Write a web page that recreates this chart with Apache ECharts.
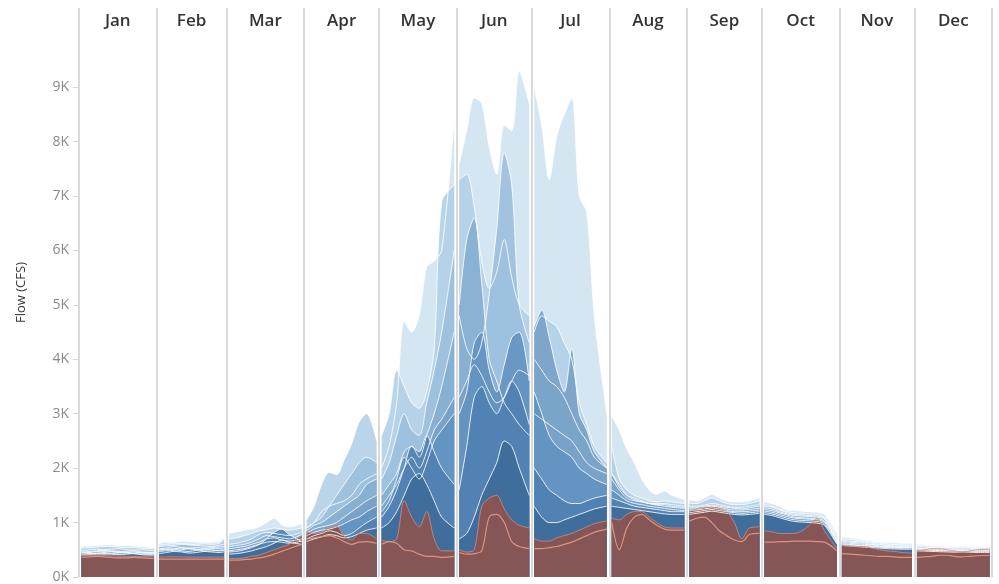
<!DOCTYPE html>
<html>
<head>
<meta charset="utf-8">
<script src="https://cdn.jsdelivr.net/npm/echarts@6/dist/echarts.min.js"></script>
<style>
  html, body { margin: 0; padding: 0; background: #fff; }
  #chart { width: 999px; height: 584px; }
</style>
</head>
<body>
<div id="chart"></div>
<script>
// months and axis ticks
const months = ['Jan', 'Feb', 'Mar', 'Apr', 'May', 'Jun', 'Jul', 'Aug', 'Sep', 'Oct', 'Nov', 'Dec'];
const monthDays = [31, 28, 31, 30, 31, 30, 31, 31, 30, 31, 30, 31];
const yTicks = [0, 1000, 2000, 3000, 4000, 5000, 6000, 7000, 8000, 9000];

// daily flow (CFS), 10 samples per month, one array per year (wettest first)
const flowB1 = [
  560,570,580,590,590,580,580,570,560,540,
  620,640,640,660,650,640,640,640,650,720,
  800,830,860,880,920,1000,1080,960,920,980,
  900,1000,1200,1300,1350,1400,1500,1700,1800,1900,
  2000,2400,3200,4700,4500,4800,5700,5800,6000,8400,
  7600,8200,8800,8700,7900,7400,8300,8200,9300,8700,
  9000,8300,7300,8100,8500,8800,7000,6700,4800,3000,
  2950,2700,2350,2100,1800,1600,1520,1580,1500,1420,
  1420,1400,1450,1520,1450,1400,1380,1380,1400,1450,
  1380,1350,1300,1230,1220,1210,1200,1190,1150,800,
  740,720,700,680,660,640,640,630,620,620,
  600,590,580,570,560,560,570,560,560,560
];
const flowB2 = [
  530,540,550,560,560,550,540,540,530,520,
  580,600,610,620,600,600,610,600,620,700,
  700,720,760,800,850,870,900,880,860,900,
  1050,1300,1700,1920,1880,2150,2450,2850,3000,2500,
  2600,3000,3800,3500,3200,3100,3400,4200,6900,7200,
  7300,7400,6800,5800,5300,5600,6200,5500,5000,4800,
  4500,4800,4700,4600,4300,4000,3200,2800,2400,2100,
  2400,1800,1600,1500,1450,1400,1380,1400,1380,1350,
  1350,1350,1400,1450,1400,1350,1330,1330,1350,1400,
  1330,1300,1250,1200,1180,1170,1160,1150,1100,750,
  700,690,670,650,640,620,610,600,600,600,
  580,570,560,550,545,545,550,545,540,540
];
const flowB3 = [
  480,500,510,500,510,520,500,490,500,480,
  560,570,580,600,590,580,570,560,580,600,
  600,620,650,700,780,820,800,780,760,820,
  900,1000,1100,1300,1500,1700,1900,2100,2200,2100,
  1800,2100,2600,3000,2700,2600,3200,3800,4500,6000,
  4800,4200,4000,4300,5200,6400,7800,7200,5000,4300,
  4000,3800,3600,3500,3300,3000,2700,2500,2200,2000,
  1900,1700,1500,1450,1400,1350,1350,1350,1330,1300,
  1300,1300,1320,1350,1330,1300,1280,1280,1300,1330,
  1300,1280,1230,1180,1150,1140,1130,1120,1080,700,
  680,660,650,640,620,600,590,590,580,580,
  560,550,540,540,530,530,535,530,520,520
];
const flowB4 = [
  460,470,480,490,470,460,470,480,460,450,
  520,530,560,540,530,540,530,540,550,560,
  560,580,600,640,700,760,740,720,700,780,
  850,950,1000,1100,1200,1300,1400,1500,1700,1800,
  1500,1700,1900,2300,2400,2200,2600,3000,3500,4500,
  5000,6200,6600,5400,4000,3600,3200,3000,2800,2600,
  3000,2900,2800,2700,2600,2500,2300,2100,2000,1900,
  1800,1600,1450,1400,1380,1350,1330,1330,1300,1280,
  1280,1280,1300,1320,1300,1280,1260,1250,1270,1300,
  1270,1250,1200,1160,1130,1120,1110,1100,1060,680,
  660,640,630,620,600,590,580,570,560,560,
  540,530,530,520,510,510,515,510,505,505
];
const flowB5 = [
  440,450,470,470,480,470,450,440,450,440,
  500,510,520,530,520,510,500,520,520,540,
  520,540,560,600,640,700,720,680,660,700,
  800,880,920,950,1000,1100,1200,1300,1400,1500,
  1300,1500,1700,2000,2200,2000,2300,2700,2900,3300,
  3300,3600,3900,3700,3400,3200,3300,3600,3800,3700,
  4600,4900,4400,3800,3400,4200,3000,2700,2300,2000,
  1900,1650,1500,1420,1380,1350,1320,1300,1280,1260,
  1250,1250,1280,1300,1280,1250,1230,1230,1240,1260,
  1240,1220,1180,1140,1100,1090,1080,1070,1030,660,
  640,620,610,600,590,570,560,560,550,550,
  530,520,510,505,500,495,500,495,490,490
];
const flowB6 = [
  420,430,440,450,460,450,440,430,420,420,
  470,480,490,500,520,500,480,480,490,500,
  480,500,520,560,600,640,650,640,620,660,
  760,820,860,880,920,980,1050,1100,1200,1300,
  1200,1400,1800,2200,2000,1800,2100,2500,2700,3000,
  3000,3400,4300,4500,3800,3400,3900,4400,4500,3600,
  3400,3000,2600,2400,2300,2200,2000,1900,1800,1700,
  1600,1500,1400,1350,1330,1300,1280,1260,1240,1220,
  1220,1230,1250,1270,1250,1220,1200,1200,1210,1230,
  1210,1190,1150,1110,1080,1070,1060,1050,1010,640,
  620,600,590,580,570,560,550,545,540,540,
  515,505,500,495,490,485,490,485,480,480
];
const flowB7 = [
  450,440,430,420,430,440,450,460,440,430,
  490,500,510,480,470,490,520,500,480,490,
  460,470,500,540,600,700,820,880,780,650,
  700,760,800,850,820,760,800,900,1000,1100,
  1100,1300,1600,2000,2400,2300,2600,2300,2000,1700,
  1600,2400,3300,3500,3200,3000,3300,3600,3400,2800,
  2000,1800,1600,1500,1400,1350,1350,1400,1450,1500,
  1450,1400,1350,1300,1280,1260,1240,1220,1200,1200,
  1180,1200,1220,1240,1220,1200,1180,1170,1180,1200,
  1180,1160,1120,1080,1050,1040,1030,1020,980,620,
  600,590,580,570,560,550,540,535,530,530,
  500,495,490,485,480,475,480,475,470,470
];
const flowB8 = [
  400,410,420,430,420,410,420,430,410,400,
  430,450,470,460,440,450,470,460,450,460,
  420,430,450,480,520,560,620,680,640,600,
  650,700,740,780,760,720,740,800,860,900,
  900,1000,1200,1500,1800,1900,1700,1400,1100,900,
  700,800,1100,1500,1800,2100,2500,2400,2000,1500,
  1300,1100,1000,1000,1050,1100,1150,1200,1250,1300,
  1300,1280,1260,1240,1220,1200,1180,1160,1150,1150,
  1150,1170,1190,1210,1190,1170,1150,1140,1150,1170,
  1150,1130,1090,1050,1020,1010,1000,990,950,600,
  580,570,560,550,540,530,520,515,510,510,
  480,475,470,465,460,455,460,455,450,450
];
// dry years
const flowR1 = [
  400,400,400,395,390,385,380,380,375,370,
  370,370,370,370,365,365,365,365,365,365,
  340,340,350,380,400,450,500,550,600,760,
  830,800,820,900,930,750,680,800,800,700,
  670,650,700,1400,1100,920,1200,700,480,480,
  500,460,500,1300,1450,1500,1250,1050,950,900,
  700,660,660,720,760,800,860,920,980,1030,
  1080,1050,1150,1200,1200,1100,1000,920,900,900,
  1200,1250,1280,1280,1260,1200,1000,700,900,920,
  850,830,800,800,800,850,950,1080,850,520,
  580,570,560,560,530,500,480,470,450,440,
  480,500,520,520,500,480,460,480,500,510
];
const flowR2 = [
  360,370,380,370,360,350,350,360,350,340,
  330,330,330,330,330,330,330,330,330,330,
  310,310,320,330,350,380,420,470,520,600,
  700,720,740,760,720,650,600,640,650,620,
  600,650,620,500,480,420,380,380,360,380,
  450,420,430,480,1100,1150,1000,650,560,520,
  520,520,540,560,600,640,700,760,820,880,
  1000,500,900,1100,1150,1050,950,880,860,860,
  1030,1080,1100,1000,850,760,680,650,780,800,
  640,640,650,650,660,660,660,650,640,480,
  430,420,410,400,390,380,380,370,360,360,
  360,370,380,400,400,380,370,380,390,400
];

// month boundaries (day of year) and centres for the header labels
const monthStart = [];
let acc = 0;
monthDays.forEach(function (d) { monthStart.push(acc); acc += d; });
const boundaries = monthStart.concat([acc]);
const centres = monthStart.map(function (s, i) { return s + monthDays[i] / 2; });

// turn 10 samples per month into [day, value] points, broken at each month edge
function toPoints(values) {
    const pts = [];
    let k = 0;
    monthDays.forEach(function (len, m) {
        const offs = [1, 4, 7, 10, 13, 16, 19, 22, 25, len - 1];
        offs.forEach(function (o) {
            pts.push([monthStart[m] + o, values[k++]]);
        });
        pts.push([monthStart[m] + len, null]);
    });
    return pts;
}

const years = [
    { data: flowB1, color: '#cfe3f1' },
    { data: flowB2, color: '#b1cfe6' },
    { data: flowB3, color: '#9abedc' },
    { data: flowB4, color: '#84add2' },
    { data: flowB5, color: '#769fc6' },
    { data: flowB6, color: '#6192bf' },
    { data: flowB7, color: '#4e80b0' },
    { data: flowB8, color: '#3c6b9a' }
];

const series = years.map(function (y) {
    return {
        type: 'line',
        data: toPoints(y.data),
        showSymbol: false,
        connectNulls: false,
        smooth: 0.3,
        silent: true,
        lineStyle: { color: '#ffffff', width: 1, opacity: 0.85 },
        areaStyle: { color: y.color, opacity: 0.88 }
    };
});

series.push({
    type: 'line',
    data: toPoints(flowR1),
    showSymbol: false,
    connectNulls: false,
    smooth: 0.3,
    silent: true,
    lineStyle: { color: '#d28d80', width: 1, opacity: 0.8 },
    areaStyle: { color: '#865656', opacity: 1 }
});
series.push({
    type: 'line',
    data: toPoints(flowR2),
    showSymbol: false,
    connectNulls: false,
    smooth: 0.3,
    silent: true,
    lineStyle: { color: '#e59a85', width: 1.2, opacity: 0.9 },
    areaStyle: { color: '#865656', opacity: 0.15 }
});

var chart = echarts.init(document.getElementById('chart'), null, { renderer: 'canvas' });

var option = {
    animation: false,
    backgroundColor: '#ffffff',
    grid: { left: 79, right: 7, top: 8, bottom: 0 },
    xAxis: {
        type: 'value',
        min: 0,
        max: 365,
        position: 'top',
        axisLine: { show: false },
        axisTick: { show: false, customValues: boundaries },
        axisLabel: {
            inside: true,
            margin: 5,
            customValues: centres,
            formatter: function (v) {
                const i = centres.indexOf(v);
                return i >= 0 ? months[i] : '';
            },
            color: '#333333',
            fontFamily: 'Open Sans',
            fontSize: 17,
            fontWeight: 600
        },
        splitLine: { show: true, lineStyle: { color: '#d9d9d9', width: 2 } }
    },
    yAxis: {
        type: 'value',
        min: 0,
        max: 10454,
        name: 'Flow (CFS)',
        nameLocation: 'middle',
        nameGap: 51,
        nameTextStyle: { color: '#333333', fontFamily: 'Open Sans', fontSize: 13 },
        axisLine: { show: false },
        axisTick: { show: true, customValues: yTicks, length: 6, lineStyle: { color: '#d9d9d9' } },
        axisLabel: {
            customValues: yTicks,
            formatter: function (v) { return (v / 1000) + 'K'; },
            color: '#8a8a8a',
            fontFamily: 'Open Sans',
            fontSize: 14,
            margin: 10
        },
        splitLine: { show: false }
    },
    series: series
};

chart.setOption(option);
</script>
</body>
</html>
